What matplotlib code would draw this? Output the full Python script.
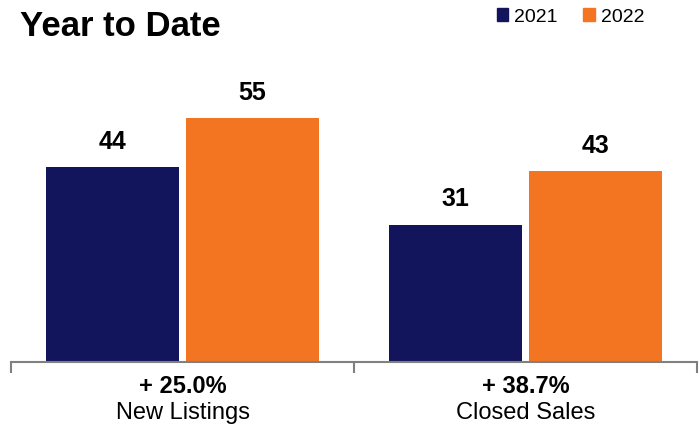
import matplotlib
matplotlib.use("Agg")
import matplotlib.pyplot as plt
from matplotlib.patches import Patch
import numpy as np

categories = ["New Listings", "Closed Sales"]
changes = ["+ 25.0%", "+ 38.7%"]
years = ["2021", "2022"]
vals_2021 = [44, 31]
vals_2022 = [55, 43]
colors = ["#13155c", "#f47521"]

plt.rcParams["font.family"] = ["Liberation Sans", "DejaVu Sans"]

fig = plt.figure(figsize=(6.99, 4.29), dpi=100)
# axes: x 11..697 px, y 40..362 px
ax = fig.add_axes([11 / 699, 1 - 362 / 429, 686 / 699, 322 / 429])

x = np.arange(len(categories))
w = 0.388
off = 0.203
b1 = ax.bar(x - off, vals_2021, w, color=colors[0])
b2 = ax.bar(x + off, vals_2022, w, color=colors[1])

for bars in (b1, b2):
    for b in bars:
        ax.text(b.get_x() + b.get_width() / 2, b.get_height() + 5.7, str(int(b.get_height())),
                ha="center", va="center", fontsize=18, fontweight="bold")

ax.set_xlim(-0.5, 1.5)
ax.set_ylim(0, 72.6)
for s in ["top", "left", "right"]:
    ax.spines[s].set_visible(False)
ax.spines["bottom"].set_color("#808080")
ax.spines["bottom"].set_linewidth(1.5)
ax.set_yticks([])
ax.set_xticks([-0.5, 0.5, 1.5])
ax.set_xticklabels([])
ax.tick_params(axis="x", length=8, width=1.5, color="#808080", direction="out")

for i in range(len(categories)):
    ax.text(x[i], -5.5, changes[i], ha="center", va="center", fontsize=17, fontweight="bold")
    ax.text(x[i], -11.6, categories[i], ha="center", va="center", fontsize=17)

fig.text(20 / 699, 1 - 27 / 429, "Year to Date", fontsize=25, fontweight="bold",
         ha="left", va="center")

handles = [Patch(color=c) for c in colors]
fig.legend(handles, years, loc="center right", bbox_to_anchor=(644 / 699, 1 - 17 / 429),
           ncol=2, frameon=False, handlelength=0.6, handleheight=0.6,
           handletextpad=0.3, columnspacing=1.3, borderpad=0, borderaxespad=0,
           prop={"size": 14})

fig.savefig("out.png", dpi=100)
